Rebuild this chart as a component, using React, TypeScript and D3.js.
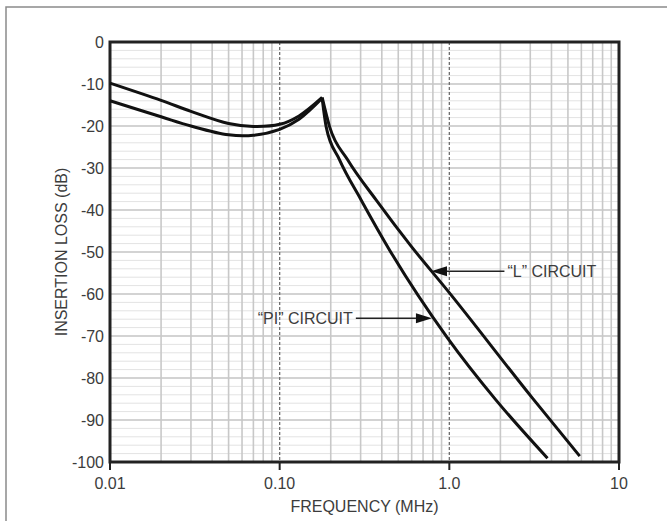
import * as d3 from "d3";

// values
const lFreq = [0.01, 0.02, 0.03, 0.05, 0.07, 0.1, 0.13, 0.178, 0.197, 0.251, 0.37, 0.595, 0.977, 3.09, 5.87];
const lLoss = [-9.8, -13.9, -16.5, -19.4, -20.1, -19.6, -17.6, -13.2, -20.2, -28, -37.6, -48.6, -59.2, -84.8, -98.6];
const piFreq = [0.01, 0.02, 0.03, 0.05, 0.07, 0.1, 0.13, 0.178, 0.188, 0.225, 0.302, 0.444, 0.977, 1.88, 3.79];
const piLoss = [-14, -17.8, -20, -22.1, -22.2, -20.8, -18.4, -13.4, -20.2, -28, -37.6, -49.5, -70.5, -85.2, -99.1];
const PEAK = 7;

const yTicks = [0, -10, -20, -30, -40, -50, -60, -70, -80, -90, -100];
const xTicks = [0.01, 0.1, 1, 10];
const xTickLabels = ["0.01", "0.10", "1.0", "10"];

const annotations = [
  { label: "\u201CL\u201D CIRCUIT", tipFreq: 0.78, tipLoss: -54.6, textFreq: 2.2, side: "right" },
  { label: "\u201CPI\u201D CIRCUIT", tipFreq: 0.79, tipLoss: -65.8, textFreq: 0.27, side: "left" },
];

const W = 667;
const H = 521;
const M = { left: 110, right: 619, top: 42, bottom: 462 };
const FONT = "'Liberation Sans', Arial, sans-serif";
const TXT = "#3c3c3c";

export default function App() {
  const x = d3.scaleLog().domain([0.01, 10]).range([M.left, M.right]);
  const y = d3.scaleLinear().domain([0, -100]).range([M.top, M.bottom]);

  const minorX: number[] = [];
  [0.01, 0.1, 1].forEach((d) => {
    for (let k = 2; k <= 9; k++) minorX.push(d * k);
  });
  const minorY = d3.range(-2, -100, -2).filter((v) => v % 10 !== 0);

  const rise = d3
    .line<[number, number]>()
    .x((d) => x(d[0]))
    .y((d) => y(d[1]))
    .curve(d3.curveCatmullRom.alpha(0.5));
  const fall = d3
    .line<[number, number]>()
    .x((d) => x(d[0]))
    .y((d) => y(d[1]))
    .curve(d3.curveMonotoneX);

  const series = [
    { f: lFreq, v: lLoss },
    { f: piFreq, v: piLoss },
  ];
  const paths: string[] = [];
  series.forEach((s) => {
    const pts = s.f.map((f, i) => [f, s.v[i]] as [number, number]);
    paths.push(rise(pts.slice(0, PEAK + 1)) ?? "");
    paths.push(fall(pts.slice(PEAK)) ?? "");
  });

  return (
    <svg width={W} height={H} style={{ position: "absolute", left: 0, top: 0 }}>
      <rect x={0} y={0} width={W} height={H} fill="#fff" />
      <rect x={6} y={7} width={W + 20} height={H + 20} fill="none" stroke="#8a8a8a" strokeWidth={1.5} />

      {/* grid */}
      {minorY.map((v) => (
        <line key={"my" + v} x1={M.left} x2={M.right} y1={y(v)} y2={y(v)} stroke="#e3e3e3" strokeWidth={1} />
      ))}
      {yTicks.slice(1, -1).map((v) => (
        <line key={"gy" + v} x1={M.left} x2={M.right} y1={y(v)} y2={y(v)} stroke="#c4c4c4" strokeWidth={1.5} />
      ))}
      {minorX.map((f) => (
        <line key={"mx" + f} x1={x(f)} x2={x(f)} y1={M.top} y2={M.bottom} stroke="#c8c8c8" strokeWidth={1.6} />
      ))}
      {[0.1, 1].map((f) => (
        <line key={"dx" + f} x1={x(f)} x2={x(f)} y1={M.top} y2={M.bottom} stroke="#6e6e6e" strokeWidth={1.3} strokeDasharray="3,2" />
      ))}

      {/* frame */}
      <rect x={M.left} y={M.top} width={M.right - M.left} height={M.bottom - M.top} fill="none" stroke="#222" strokeWidth={3} />
      {xTicks.map((f) => (
        <line key={"tx" + f} x1={x(f)} x2={x(f)} y1={M.bottom} y2={M.bottom + 8} stroke="#222" strokeWidth={2} />
      ))}

      {/* curves */}
      {paths.map((d, i) => (
        <path key={i} d={d} fill="none" stroke="#111" strokeWidth={3} strokeLinejoin="miter" />
      ))}

      {/* annotations */}
      {annotations.map((a) => {
        const tx = x(a.tipFreq);
        const ty = y(a.tipLoss);
        const textX = x(a.textFreq);
        const dir = a.side === "right" ? 1 : -1;
        const tail = textX - dir * 3;
        const headLen = 16;
        return (
          <g key={a.label}>
            <line x1={tail} x2={tx + dir * headLen} y1={ty} y2={ty} stroke="#222" strokeWidth={1.5} />
            <path
              d={`M${tx},${ty} L${tx + dir * headLen},${ty - 5} L${tx + dir * headLen},${ty + 5} Z`}
              fill="#111"
            />
            <text
              x={textX}
              y={ty}
              dy="0.35em"
              textAnchor={a.side === "right" ? "start" : "end"}
              fontFamily={FONT}
              fontSize={16}
              fill={TXT}
            >
              {a.label}
            </text>
          </g>
        );
      })}

      {/* axis labels */}
      {yTicks.map((v) => (
        <text key={"yl" + v} x={M.left - 6} y={y(v)} dy="0.35em" textAnchor="end" fontFamily={FONT} fontSize={16} fill={TXT}>
          {v}
        </text>
      ))}
      {xTicks.map((f, i) => (
        <text key={"xl" + f} x={x(f)} y={489} textAnchor="middle" fontFamily={FONT} fontSize={16} fill={TXT}>
          {xTickLabels[i]}
        </text>
      ))}
      <text x={(M.left + M.right) / 2} y={512} textAnchor="middle" fontFamily={FONT} fontSize={16} fill={TXT}>
        FREQUENCY (MHz)
      </text>
      <text
        transform={`translate(61,${(M.top + M.bottom) / 2}) rotate(-90)`}
        dy="0.35em"
        textAnchor="middle"
        fontFamily={FONT}
        fontSize={16}
        fill={TXT}
      >
        INSERTION LOSS (dB)
      </text>
    </svg>
  );
}
